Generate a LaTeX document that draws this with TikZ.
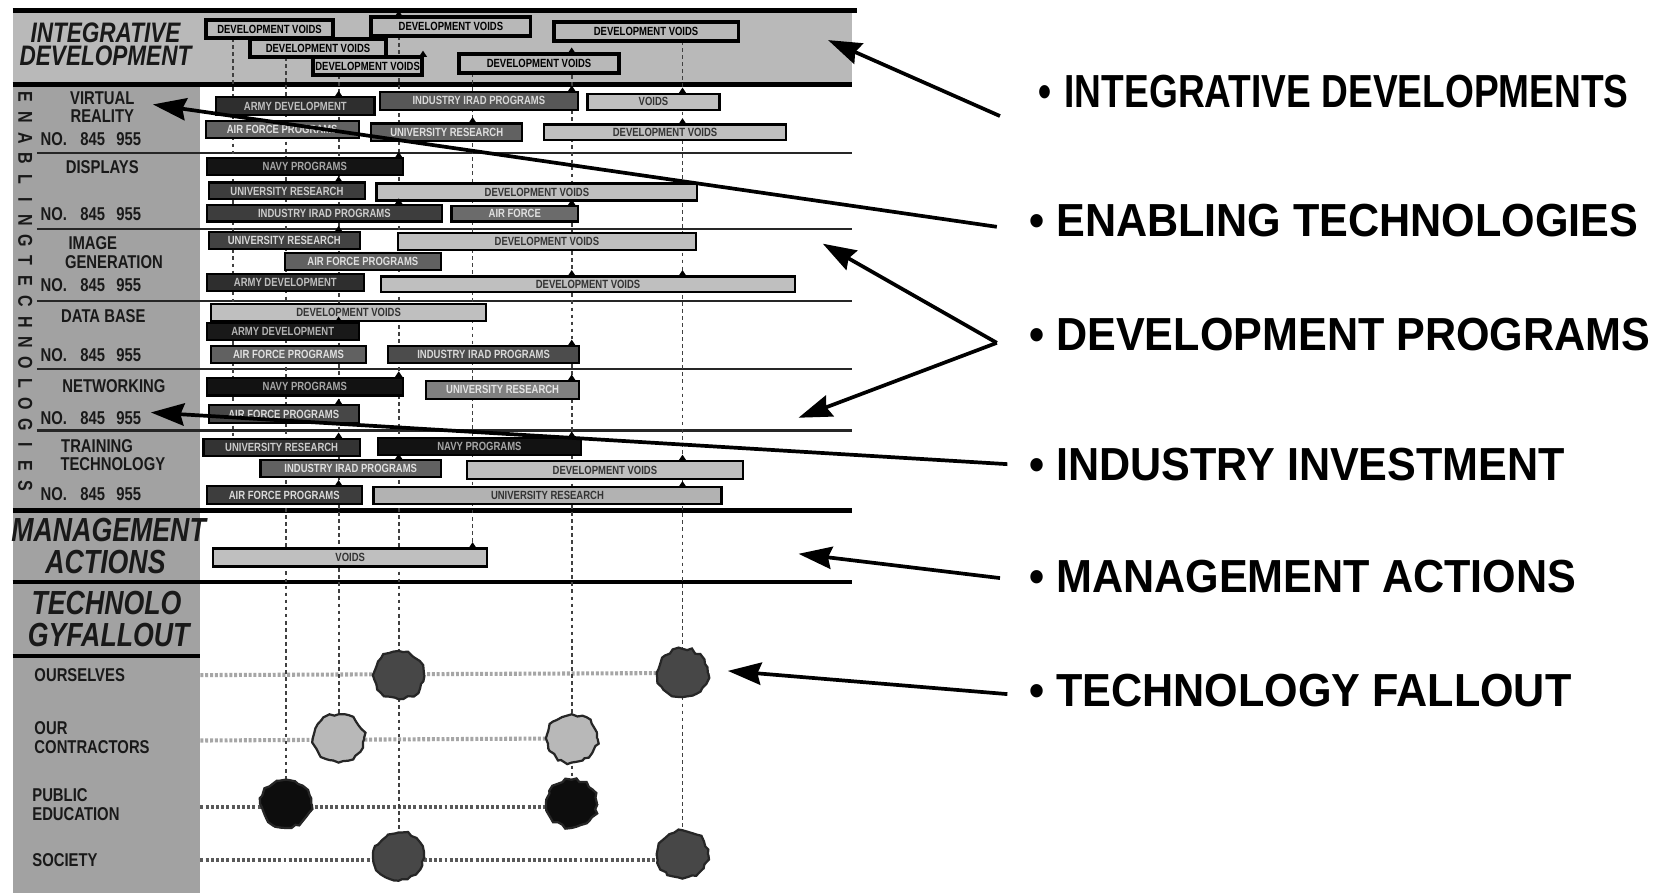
\documentclass[tikz,border=0pt]{standalone}
\usepackage{fontspec}
\setmainfont{Liberation Sans}
\newfontfamily\nar{Liberation Sans}[FakeStretch=0.8]
\newfontfamily\narb{Liberation Sans}[FakeStretch=0.93]
\usetikzlibrary{arrows.meta,calc,shapes.geometric,decorations.pathmorphing}
\definecolor{bandgray}{HTML}{B9B9B9}
\definecolor{colgray}{HTML}{A2A2A2}
\pgfmathsetseed{7}
\tikzset{
  thickline/.style={line width=1.15pt, draw=black},
  rowline/.style={line width=0.6pt, draw=black!85},
  dotl/.style={line width=0.5pt, draw=black!75, dash pattern=on 1pt off 0.9pt},
  hdot/.style={line width=1.1pt, draw=black!35, dash pattern=on 0.8pt off 0.5pt},
  hdotdark/.style={line width=1.1pt, draw=black!65, dash pattern=on 0.8pt off 0.6pt},
  bartxt/.style={inner sep=0, font=\nar\bfseries\fontsize{3.2}{3.5}\selectfont},
  ibox/.style={draw=black, line width=1pt, fill=black!28},
  lbl/.style={inner sep=0, font=\nar\bfseries\fontsize{5}{5.5}\selectfont, text=black!90},
  strip/.style={inner sep=0, font=\nar\bfseries\fontsize{5.4}{6}\selectfont, text=black!90},
  hdr/.style={inner sep=0, font=\nar\bfseries\itshape\fontsize{9}{10}\selectfont, text=black!90},
  rlab/.style={inner sep=0, anchor=west, font=\narb\bfseries\fontsize{12.5}{14}\selectfont},
  arr/.style={line width=1pt, draw=black, -{Stealth[length=9pt,width=6pt,inset=1pt]}},
  blob/.style={ellipse, minimum width=0.48cm, minimum height=0.45cm, inner sep=0,
     draw=black!85, line width=0.6pt, decorate,
     decoration={random steps, segment length=1.3pt, amplitude=0.45pt}},
}
\newcommand\gbar[8]{%
  \path[draw=black, line width=0.6pt, fill=#6] (#2,#3) rectangle (#4,#5);
  \node[bartxt, text=#7] (#1) at ($(#2,#3)!0.5!(#4,#5)$) {#8};}
\newcommand\ibar[6]{%
  \path[ibox] (#2,#3) rectangle (#4,#5);
  \node[bartxt, text=black] (#1) at ($(#2,#3)!0.5!(#4,#5)$) {#6};}
\newcommand\mk[2]{\fill[black] ({#1-4},#2) -- (#1,{#2-6}) -- ({#1+4},#2) -- cycle;}
\begin{document}
\begin{tikzpicture}[x=0.01cm, y=-0.01cm]
\useasboundingbox (0,0) rectangle (1568,847);
\fill[white] (0,0) rectangle (1568,847);
% backgrounds
\fill[bandgray] (12,10) rectangle (808,80);
\fill[colgray] (12,80) rectangle (190,847);
\draw[thickline] (12,10) -- (812,10);
\draw[thickline] (12,80) -- (808,80);
\foreach \yy in {145,217,285,350,408} \draw[rowline] (35,\yy) -- (808,\yy);
\draw[thickline] (12,484) -- (808,484);
\draw[thickline] (12,552) -- (808,552);
\draw[thickline] (12,622) -- (190,622);

% blob centres
\coordinate (c-o1) at (378,640);
\coordinate (c-o2) at (647,638);
\coordinate (c-c1) at (321,700);
\coordinate (c-c2) at (542,700);
\coordinate (c-p1) at (271,762);
\coordinate (c-p2) at (542,762);
\coordinate (c-s1) at (378,812);
\coordinate (c-s2) at (647,810);
\coordinate (l-o) at (190,640);
\coordinate (l-c) at (190,702);
\coordinate (l-p) at (190,765);
\coordinate (l-s) at (190,815);

% fallout horizontal lines
\draw[hdot] (l-o) -- (c-o2);
\draw[hdot] (l-c) -- (c-c2);
\draw[hdotdark] (l-p) -- (c-p2 |- l-p);
\draw[hdotdark] (l-s) -- (c-s2 |- l-s);

% vertical dotted lines
\coordinate (v1t) at (221,36);  \coordinate (v1b) at (221,416);
\coordinate (v2t) at (271,54);
\coordinate (v3t) at (321,71);
\coordinate (v4t) at (378,34);
\coordinate (v5t) at (448,69);  \coordinate (v5b) at (448,520);
\coordinate (v6t) at (542,51);
\coordinate (v7t) at (647,39);
\draw[dotl] (v1t) -- (v1b);
\draw[dotl] (v2t) -- (c-p1);
\draw[dotl] (v3t) -- (c-c1);
\draw[dotl] (v4t) -- (c-s1);
\draw[dotl] (v5t) -- (v5b);
\draw[dotl] (v6t) -- (c-p2);
\draw[dotl] (v7t) -- (c-s2);

% integrative boxes
\ibar{iA}{195}{19}{316}{36}{DEVELOPMENT VOIDS}
\ibar{iB}{352}{16}{503}{34}{DEVELOPMENT VOIDS}
\ibar{iC}{525}{21}{700}{39}{DEVELOPMENT VOIDS}
\ibar{iD}{237}{37}{366}{54}{DEVELOPMENT VOIDS}
\ibar{iE}{297}{54}{400}{71}{DEVELOPMENT VOIDS}
\ibar{iF}{435}{51}{587}{69}{DEVELOPMENT VOIDS}

% virtual reality
\gbar{v1}{205}{92}{355}{109}{black!82}{black!25}{ARMY DEVELOPMENT}
\gbar{v2}{360}{87}{548}{104}{black!66}{black!15}{INDUSTRY IRAD PROGRAMS}
\gbar{v3}{557}{89}{682}{104}{black!25}{black!80}{VOIDS}
\gbar{v4}{195}{115}{340}{131}{black!62}{black!12}{AIR FORCE PROGRAMS}
\gbar{v5}{352}{117}{495}{134}{black!62}{black!12}{UNIVERSITY RESEARCH}
\gbar{v6}{516}{118}{745}{133}{black!25}{black!80}{DEVELOPMENT VOIDS}
% displays
\gbar{d1}{196}{150}{382}{166}{black!92}{black!35}{NAVY PROGRAMS}
\gbar{d2}{198}{173}{346}{189}{black!76}{black!20}{UNIVERSITY RESEARCH}
\gbar{d3}{357}{174}{661}{190}{black!25}{black!80}{DEVELOPMENT VOIDS}
\gbar{d4}{196}{194}{419}{210}{black!76}{black!20}{INDUSTRY IRAD PROGRAMS}
\gbar{d5}{428}{195}{548}{210}{black!58}{black!12}{AIR FORCE}
% image generation
\gbar{g1}{198}{220}{341}{236}{black!74}{black!15}{UNIVERSITY RESEARCH}
\gbar{g2}{377}{221}{660}{237}{black!25}{black!80}{DEVELOPMENT VOIDS}
\gbar{g3}{270}{240}{418}{256}{black!62}{black!12}{AIR FORCE PROGRAMS}
\gbar{g4}{196}{260}{345}{276}{black!82}{black!25}{ARMY DEVELOPMENT}
\gbar{g5}{361}{262}{754}{277}{black!25}{black!80}{DEVELOPMENT VOIDS}
% data base
\gbar{b1}{200}{288}{461}{304}{black!25}{black!80}{DEVELOPMENT VOIDS}
\gbar{b2}{196}{306}{340}{322}{black!90}{black!30}{ARMY DEVELOPMENT}
\gbar{b3}{200}{328}{347}{344}{black!62}{black!12}{AIR FORCE PROGRAMS}
\gbar{b4}{368}{328}{549}{344}{black!70}{black!15}{INDUSTRY IRAD PROGRAMS}
% networking
\gbar{n1}{196}{358}{382}{375}{black!93}{black!35}{NAVY PROGRAMS}
\gbar{n2}{404}{361}{549}{378}{black!50}{black!10}{UNIVERSITY RESEARCH}
\gbar{n3}{198}{384}{340}{401}{black!72}{black!15}{AIR FORCE PROGRAMS}
% training technology
\gbar{t1}{193}{416}{341}{432}{black!80}{black!20}{UNIVERSITY RESEARCH}
\gbar{t2}{358}{415}{551}{431}{black!93}{black!35}{NAVY PROGRAMS}
\gbar{t3}{247}{436}{418}{452}{black!62}{black!12}{INDUSTRY IRAD PROGRAMS}
\gbar{t4}{443}{437}{704}{454}{black!25}{black!80}{DEVELOPMENT VOIDS}
\gbar{t5}{196}{461}{343}{478}{black!76}{black!15}{AIR FORCE PROGRAMS}
\gbar{t6}{354}{462}{684}{478}{black!30}{black!80}{UNIVERSITY RESEARCH}
% management
\gbar{m1}{202}{520}{462}{537}{black!25}{black!80}{VOIDS}

% small link markers
\mk{378}{16}\mk{542}{51}\mk{401}{54}\mk{321}{92}\mk{542}{87}\mk{647}{89}
\mk{448}{117}\mk{647}{118}\mk{378}{150}\mk{321}{173}\mk{378}{194}\mk{542}{195}
\mk{321}{220}\mk{542}{262}\mk{647}{262}\mk{321}{306}\mk{542}{328}\mk{378}{358}
\mk{542}{361}\mk{321}{384}\mk{321}{416}\mk{542}{415}\mk{378}{436}\mk{647}{437}
\mk{321}{461}\mk{647}{462}\mk{448}{520}

% blobs
\node[blob, fill=black!72] (o1) at (c-o1) {};
\node[blob, fill=black!72] (o2) at (c-o2) {};
\node[blob, fill=black!28] (k1) at (c-c1) {};
\node[blob, fill=black!28] (k2) at (c-c2) {};
\node[blob, fill=black!95] (p1) at (c-p1) {};
\node[blob, fill=black!95] (p2) at (c-p2) {};
\node[blob, fill=black!72] (s1) at (c-s1) {};
\node[blob, fill=black!72] (s2) at (c-s2) {};

% section headers
\node[hdr, font=\nar\bfseries\itshape\fontsize{7.6}{8}\selectfont] (h1) at (100,31) {INTEGRATIVE};
\node[hdr, font=\nar\bfseries\itshape\fontsize{7.6}{8}\selectfont] (h2) at (100,53) {DEVELOPMENT};
\node[hdr] (h3) at (103,502) {MANAGEMENT};
\node[hdr] (h4) at (100,533) {ACTIONS};
\node[hdr] (h5) at (101,572) {TECHNOLO};
\node[hdr] (h6) at (103,602) {GYFALLOUT};

% vertical letters
\foreach \l [count=\i] in {E,N,A,B,L,I,N,G,T,E,C,H,N,O,L,O,G,I,E,S}
  \node[strip, rotate=-90] (ls\i) at (24,{92+(\i-1)*19.4}) {\l};

% row labels
\node[lbl] (r1a) at (97,93) {VIRTUAL};
\node[lbl] (r1b) at (97,110) {REALITY};
\node[lbl] (r2a) at (97,158) {DISPLAYS};
\node[lbl] (r3a) at (88,230) {IMAGE};
\node[lbl] (r3b) at (108,248) {GENERATION};
\node[lbl] (r4a) at (98,300) {DATA BASE};
\node[lbl] (r5a) at (108,366) {NETWORKING};
\node[lbl] (r6a) at (92,423) {TRAINING};
\node[lbl] (r6b) at (107,440) {TECHNOLOGY};
\foreach \yy [count=\i] in {132,203,270,337,396,468}{
  \node[lbl] (noa\i) at (51,\yy) {NO.};
  \node[lbl] (nob\i) at (88,\yy) {845};
  \node[lbl] (noc\i) at (122,\yy) {955};
}
\node[lbl, anchor=west] (f1) at (32,640) {OURSELVES};
\node[lbl, anchor=west] (f2a) at (32,690) {OUR};
\node[lbl, anchor=west] (f2b) at (32,708) {CONTRACTORS};
\node[lbl, anchor=west] (f3a) at (30,754) {PUBLIC};
\node[lbl, anchor=west] (f3b) at (30,772) {EDUCATION};
\node[lbl, anchor=west] (f4) at (30,815) {SOCIETY};

% right labels
\node[rlab, font=\nar\bfseries\fontsize{12.5}{14}\selectfont] (R1) at (984,87) {\textbullet\hspace{3.5pt}INTEGRATIVE DEVELOPMENTS};
\node[rlab] (R2) at (975,209) {\textbullet\ ENABLING TECHNOLOGIES};
\node[rlab] (R3) at (975,317) {\textbullet\ DEVELOPMENT PROGRAMS};
\node[rlab] (R4) at (975,440) {\textbullet\ INDUSTRY INVESTMENT};
\node[rlab] (R5) at (975,547) {\textbullet\ MANAGEMENT ACTIONS};
\node[rlab] (R6) at (975,655) {\textbullet\ TECHNOLOGY FALLOUT};

% arrows
\coordinate (a1s) at (948,110); \coordinate (a1e) at (785,38);
\coordinate (a2s) at (945,215); \coordinate (a2e) at (145,99);
\coordinate (a3s) at (945,325); \coordinate (a3e) at (780,231);
\coordinate (a3f) at (757,396);
\coordinate (a4s) at (955,440); \coordinate (a4e) at (143,391);
\coordinate (a5s) at (948,548); \coordinate (a5e) at (757,525);
\coordinate (a6s) at (955,658); \coordinate (a6e) at (690,636);
\draw[arr] (a1s) -- (a1e);
\draw[arr] (a2s) -- (a2e);
\draw[arr] (a3s) -- (a3e);
\draw[arr] (a3s) -- (a3f);
\draw[arr] (a4s) -- (a4e);
\draw[arr] (a5s) -- (a5e);
\draw[arr] (a6s) -- (a6e);
\end{tikzpicture}
\end{document}
